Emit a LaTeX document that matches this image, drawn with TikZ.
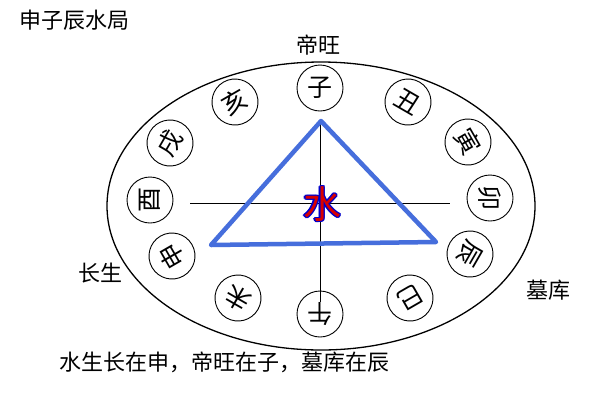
\documentclass[tikz,border=0pt]{standalone}
\usepackage{fontspec}
\setmainfont{Noto Sans CJK SC}
\begin{document}
\begin{tikzpicture}[x=1pt,y=-1pt,
  br/.style={draw,circle,line width=0.9pt,minimum size=46pt,inner sep=0pt,font=\fontsize{25}{25}\selectfont},
  lab/.style={font=\fontsize{22}{22}\selectfont},
  shuif/.style={font=\fontsize{38}{38}\selectfont}]
\useasboundingbox (0,0) rectangle (600,400);
\fill[white] (0,0) rectangle (600,400);
\draw[line width=1.3pt] (321,206) ellipse [x radius=214, y radius=144];
\foreach \n/\t/\x/\y/\a in {zi/子/320/88/0, chou/丑/408/102/-30, yin/寅/468/142/-60, mao/卯/490/198/-90, chen/辰/470/254/-120, si/巳/410/298/-150, wu/午/320/314/180, wei/未/238/298/150, shen/申/172/256/120, you/酉/150/200/90, xu/戌/170/143/60, hai/亥/235/102/30}
  \node[br,rotate=\a] (\n) at (\x,\y) {\t};
\coordinate (hl) at (190,203); \coordinate (hr) at (450,203);
\coordinate (vt) at (320,120); \coordinate (vb) at (320,302);
\draw[line width=0.9pt] (hl) -- (hr);
\draw[line width=0.9pt] (vt) -- (vb);
\coordinate (ta) at (321,121); \coordinate (tb) at (211,245); \coordinate (tc) at (436,242);
\draw[line width=4.5pt,color={rgb,255:red,70;green,110;blue,220},line join=round] (ta) -- (tb) -- (tc) -- cycle;
\foreach \dx/\dy in {-1.3/0,1.3/0,0/-1.3,0/1.3,-1/-1,1/1,-1/1,1/-1}
  \node[shuif,text=blue!80!black] at (322+\dx,204+\dy) {水};
\node[shuif,text=red!85!black] (shui) at (322,204) {水};
\node[lab,anchor=west] (title) at (16,20) {申子辰水局};
\node[lab] (diwang) at (318,45) {帝旺};
\node[lab] (changsheng) at (100,273) {长生};
\node[lab] (muku) at (548,290) {墓库};
\node[lab,anchor=west] (bottom) at (56,362) {水生长在申，帝旺在子，墓库在辰};
\end{tikzpicture}
\end{document}
